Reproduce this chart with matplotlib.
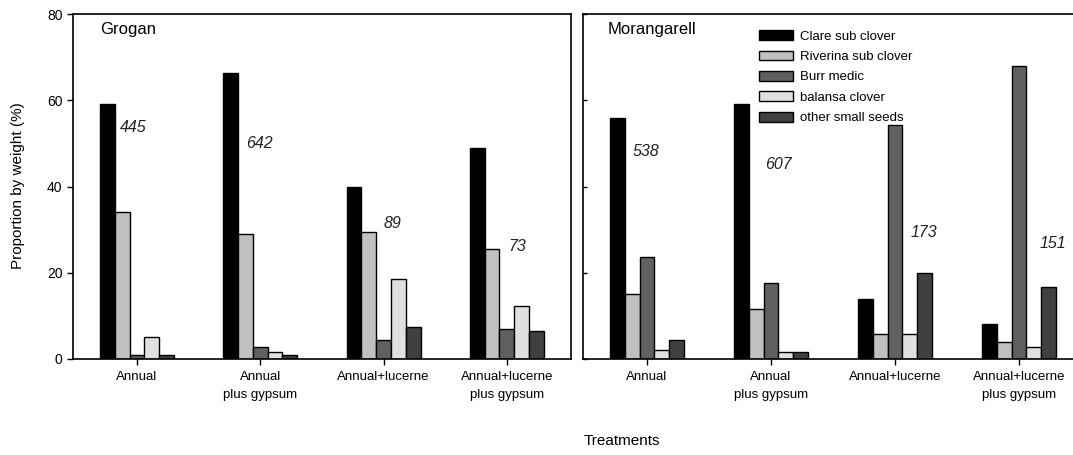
import matplotlib.pyplot as plt
import numpy as np

plt.rcParams['font.family'] = ['Liberation Sans', 'DejaVu Sans']

treatments = ['Annual', 'Annual\nplus gypsum', 'Annual+lucerne', 'Annual+lucerne\nplus gypsum']
species = ['Clare sub clover', 'Riverina sub clover', 'Burr medic', 'balansa clover', 'other small seeds']
colors = ['#000000', '#c0c0c0', '#606060', '#e0e0e0', '#404040']

# proportion by weight (%) per species, one list per treatment
grogan = [
    [59.1, 34.2, 1.0, 5.2, 1.0],
    [66.4, 29.0, 2.8, 1.7, 1.0],
    [40.0, 29.4, 4.3, 18.5, 7.5],
    [49.0, 25.6, 7.0, 12.3, 6.6],
]
morangarell = [
    [55.8, 15.1, 23.7, 2.2, 4.3],
    [59.1, 11.7, 17.7, 1.7, 1.7],
    [13.8, 5.9, 54.3, 5.9, 20.0],
    [8.1, 4.0, 68.0, 2.7, 16.6],
]
grogan_n = ['445', '642', '89', '73']
morangarell_n = ['538', '607', '173', '151']

# where the sample counts sit (x offset from group centre, y in %)
grogan_npos = [(-0.03, 53.6), (0.99, 49.9), (2.07, 31.5), (3.08, 26.0)]
morangarell_npos = [(-0.01, 48.0), (1.06, 45.2), (2.23, 29.4), (3.27, 26.7)]

W, H = 1073, 455
fig = plt.figure(figsize=(W / 100, H / 100), dpi=100)
ax1 = fig.add_axes([73 / W, 1 - 359 / H, 498 / W, 345 / H])
ax2 = fig.add_axes([583 / W, 1 - 359 / H, 490 / W, 345 / H])

x = np.arange(len(treatments))
bw = 0.12


def draw(ax, data, counts, npos, title, tx):
    arr = np.array(data)
    for i, sp in enumerate(species):
        ax.bar(x + (i - 2) * bw, arr[:, i], bw, color=colors[i], edgecolor='black',
               linewidth=1.0, label=sp)
    for (px, py), c in zip(npos, counts):
        ax.text(px, py, c, ha='center', va='center', fontsize=11.5, style='italic', color='#222222')
    ax.text(tx, 0.955, title, transform=ax.transAxes, fontsize=12, ha='left', va='center')
    ax.set_ylim(0, 80)
    ax.set_xticks(x)
    ax.set_xticklabels(treatments, fontsize=9.5, linespacing=1.65)
    ax.tick_params(axis='x', length=4, width=1, pad=5)
    for s in ax.spines.values():
        s.set_linewidth(1.2)


draw(ax1, grogan, grogan_n, grogan_npos, 'Grogan', 27 / 498)
draw(ax2, morangarell, morangarell_n, morangarell_npos, 'Morangarell', 25 / 490)

ax1.set_xlim(-0.519, 3.52)
ax1.set_yticks([0, 20, 40, 60, 80])
ax1.tick_params(axis='y', labelsize=10, length=4, width=1)

ax2.set_xlim(-0.516, 3.435)
ax2.set_yticks([0, 20, 40, 60, 80])
ax2.tick_params(axis='y', labelleft=False, direction='in', length=3, width=1)
ax2.spines['right'].set_visible(False)

ax2.legend(loc='upper left', bbox_to_anchor=(0.359, 0.953), frameon=False, fontsize=9.5,
           borderpad=0, borderaxespad=0, handlelength=2.58, handleheight=0.76,
           handletextpad=0.53, labelspacing=0.6)

fig.text(18 / W, 1 - 186 / H, 'Proportion by weight (%)', rotation=90, ha='center', va='center',
         fontsize=11)
fig.text(622 / W, 1 - 441 / H, 'Treatments', ha='center', va='center', fontsize=11)

fig.savefig('out.png', dpi=100)
